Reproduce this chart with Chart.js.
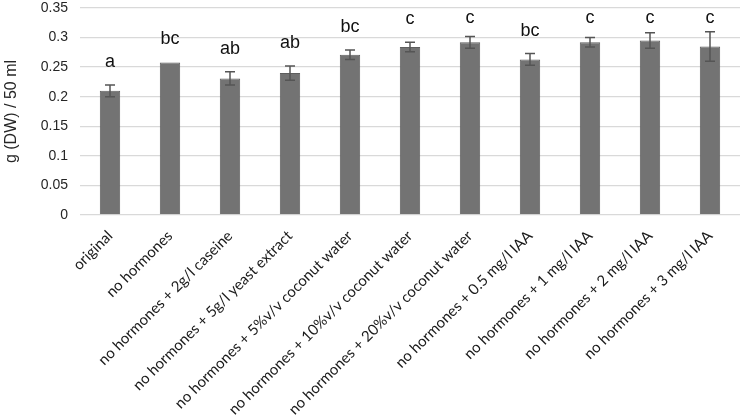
<!DOCTYPE html>
<html>
<head>
<meta charset="utf-8">
<script src="https://cdn.jsdelivr.net/npm/chart.js@4"></script>
<style>
  body { margin: 0; background: #fff; }
  #wrap { width: 745px; height: 419px; }
</style>
</head>
<body>
<div id="wrap"><canvas id="dwChart"></canvas></div>
<script>
const categories = [
  'original',
  'no hormones',
  'no hormones + 2g/l caseine',
  'no hormones + 5g/l yeast extract',
  'no hormones + 5%v/v coconut water',
  'no hormones + 10%v/v coconut water',
  'no hormones + 20%v/v coconut water',
  'no hormones + 0.5 mg/l IAA',
  'no hormones + 1 mg/l IAA',
  'no hormones + 2 mg/l IAA',
  'no hormones + 3 mg/l IAA'
];
const dryWeight = [0.210, 0.258, 0.231, 0.240, 0.271, 0.284, 0.292, 0.263, 0.292, 0.295, 0.285];
const errors = [0.010, 0, 0.011, 0.012, 0.008, 0.008, 0.010, 0.010, 0.008, 0.013, 0.025];
const groupLetters = ['a', 'bc', 'ab', 'ab', 'bc', 'c', 'c', 'bc', 'c', 'c', 'c'];
const yTickLabels = ['0', '0.05', '0.1', '0.15', '0.2', '0.25', '0.3', '0.35'];

// error bars + significance letters on top of the bars
const errorBarPlugin = {
  id: 'errorBars',
  afterDatasetsDraw(chart) {
    const ctx = chart.ctx;
    const yScale = chart.scales.y;
    const meta = chart.getDatasetMeta(0);
    const minBaseline = chart.chartArea.top + 15;

    ctx.save();
    meta.data.forEach((bar, index) => {
      const x = bar.x;
      const err = errors[index];
      const topY = yScale.getPixelForValue(dryWeight[index] + err);

      if (err > 0) {
        const bottomY = yScale.getPixelForValue(dryWeight[index] - err);
        ctx.strokeStyle = '#555555';
        ctx.lineWidth = 1.5;
        ctx.beginPath();
        ctx.moveTo(x, topY);
        ctx.lineTo(x, bottomY);
        ctx.moveTo(x - 5, topY);
        ctx.lineTo(x + 5, topY);
        ctx.moveTo(x - 5, bottomY);
        ctx.lineTo(x + 5, bottomY);
        ctx.stroke();
      }

      // letters sit above the error bar, but never above the top gridline
      ctx.fillStyle = '#111111';
      ctx.font = '18px "Liberation Sans", Arial, sans-serif';
      ctx.textAlign = 'center';
      ctx.textBaseline = 'alphabetic';
      ctx.fillText(groupLetters[index], x, Math.max(topY - 18, minBaseline));
    });
    ctx.restore();
  }
};

new Chart(document.getElementById('dwChart'), {
  type: 'bar',
  data: {
    labels: categories,
    datasets: [{
      data: dryWeight,
      backgroundColor: '#737373',
      borderColor: '#5e5e5e',
      borderWidth: 1,
      categoryPercentage: 1,
      barPercentage: 0.34
    }]
  },
  plugins: [errorBarPlugin],
  options: {
    responsive: true,
    maintainAspectRatio: false,
    animation: false,
    layout: {
      padding: { top: 0, right: 5, left: 0, bottom: 0 }
    },
    plugins: {
      legend: { display: false },
      tooltip: { enabled: false }
    },
    scales: {
      y: {
        min: 0,
        max: 0.35,
        ticks: {
          stepSize: 0.05,
          padding: 12,
          color: '#262626',
          font: { family: '"Liberation Sans", Arial, sans-serif', size: 14 },
          callback: function(value, index) {
            return yTickLabels[index];
          }
        },
        grid: {
          color: '#d9d9d9',
          lineWidth: 1.3,
          drawTicks: false
        },
        border: { display: false },
        title: {
          display: true,
          text: 'g (DW) / 50 ml',
          color: '#262626',
          font: { family: '"Liberation Sans", Arial, sans-serif', size: 16 },
          padding: { top: 2, bottom: 3 }
        },
        afterFit: function(scale) {
          scale.width = 80;
          scale.paddingTop = 8;
          scale.paddingBottom = 8;
        }
      },
      x: {
        grid: { display: false },
        border: { display: false },
        ticks: {
          autoSkip: false,
          maxRotation: 45,
          minRotation: 45,
          padding: 4,
          color: '#1a1a1a',
          font: { family: 'Lato, "Open Sans", sans-serif', size: 15 }
        },
        afterFit: function(scale) {
          scale.height = 204;
        }
      }
    }
  }
});
</script>
</body>
</html>
